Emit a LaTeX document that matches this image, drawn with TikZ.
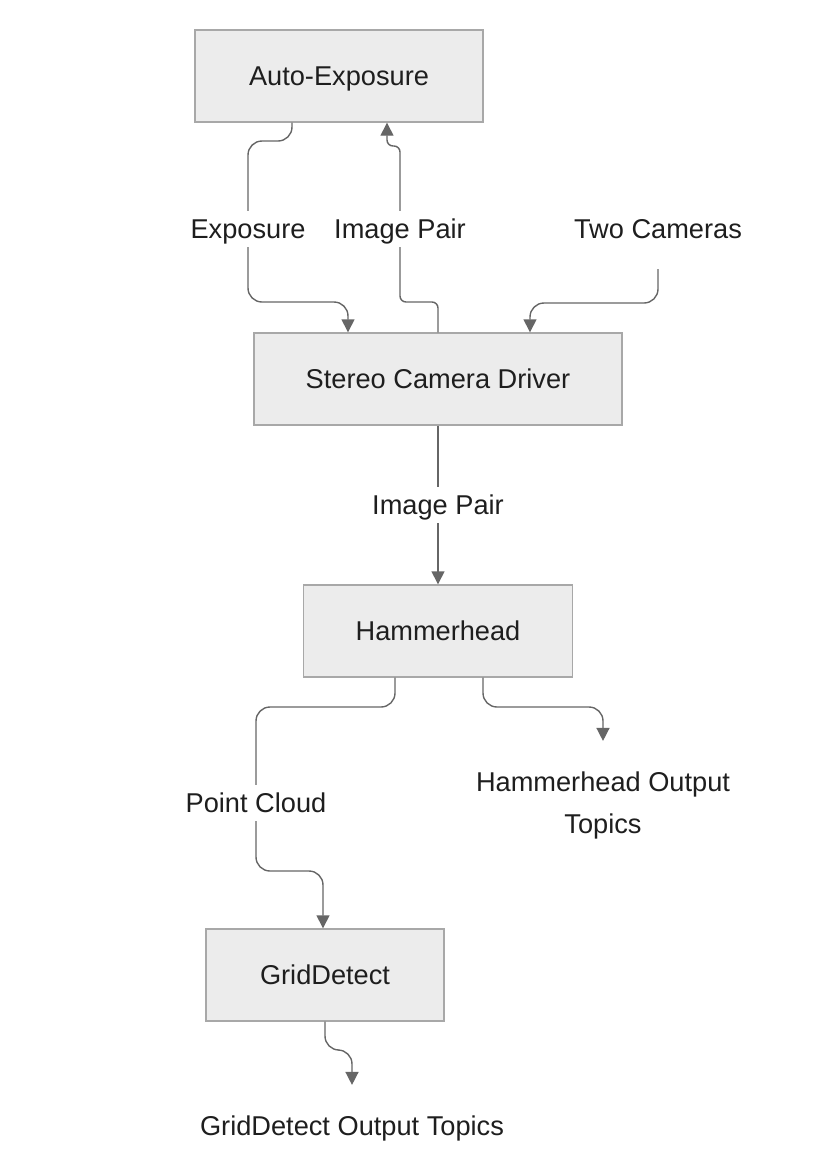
\documentclass[tikz,border=0pt]{standalone}
\usepackage{fontspec}
\setmainfont{Liberation Sans}
\usetikzlibrary{arrows.meta}

\definecolor{boxfill}{HTML}{ECECEC}
\definecolor{boxline}{HTML}{A8A8A8}
\definecolor{linegray}{HTML}{666666}
\definecolor{textgray}{HTML}{1E1E1E}

\tikzset{
    block/.style={draw=boxline, fill=boxfill, line width=0.7pt, minimum height=46pt,
        inner sep=0pt, text height=9.8pt, text depth=0pt, text=textgray,
        font=\fontsize{13.6}{16}\selectfont},
    plain/.style={inner xsep=2pt, inner ysep=15pt, text=textgray, align=center,
        font=\fontsize{13.6}{21}\selectfont},
    tag/.style={fill=white, inner xsep=2pt, inner ysep=4pt, text height=9.8pt, text depth=0pt,
        text=textgray, font=\fontsize{13.6}{16}\selectfont},
    flow/.style={draw=linegray, line width=0.7pt, rounded corners=7pt,
        -{Triangle[length=6.5pt, width=6.5pt]}}
}

\begin{document}
\begin{tikzpicture}[x=0.5pt, y=-0.5pt]
    \useasboundingbox (0,0) rectangle (824,1168);

    % Boxes, top to bottom
    \node[block, minimum width=144pt] (ae) at (339,76) {Auto-Exposure};
    \node[block, minimum width=184pt] (scd) at (438,379) {Stereo Camera Driver};
    \node[block, minimum width=134.5pt] (hh) at (438,631) {Hammerhead};
    \node[block, minimum width=119pt] (gd) at (325,975) {GridDetect};

    % Free text ends
    \node[plain] (cams) at (658,229) {Two Cameras};
    \node[plain] (hout) at (603,805) {Hammerhead Output\\Topics};
    \node[plain] (gout) at (352,1128) {GridDetect Output Topics};

    % Auto-Exposure <-> Stereo Camera Driver
    \draw[flow] ([xshift=-23.5pt]ae.south) -- (292,141) -- (248,141)
        -- (248,229) node[tag] {Exposure} -- (248,302) -- (348,302) -- ([xshift=-45pt]scd.north);
    \draw[flow, rounded corners=3pt] (scd.north) -- (438,302) -- (400,302)
        -- (400,229) node[tag] {Image Pair} -- (400,146) -- (387,146) -- ([xshift=24pt]ae.south);

    % Two Cameras into driver
    \draw[flow] (cams.south) -- (658,303) -- (530,303) -- ([xshift=46pt]scd.north);

    % Driver to Hammerhead
    \draw[flow] (scd.south) -- node[tag] {Image Pair} (hh.north);

    % Hammerhead outputs
    \draw[flow] ([xshift=-21.5pt]hh.south) -- (395,707) -- (256,707)
        -- (256,803) node[tag] {Point Cloud} -- (256,871) -- (323,871) -- ([xshift=-1pt]gd.north);
    \draw[flow] ([xshift=22.5pt]hh.south) -- (483,707) -- (603,707) -- (hout.north);

    % GridDetect output
    \draw[flow] (gd.south) -- (325,1050) -- (352,1050) -- (gout.north);

\end{tikzpicture}
\end{document}
